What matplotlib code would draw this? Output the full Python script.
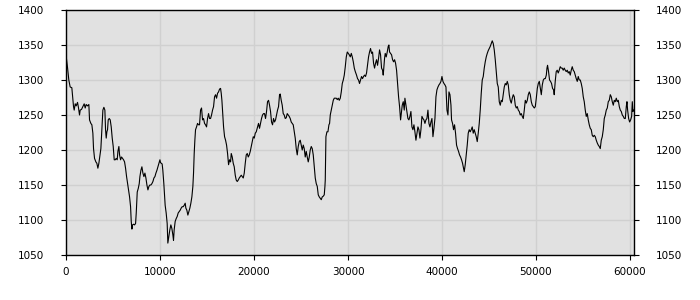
import matplotlib
matplotlib.use('Agg')
import matplotlib.pyplot as plt

# positions along the x axis and the values
x_pos = [0, 160, 300, 444, 620, 800, 870, 980, 1083, 1225, 1332, 1438, 1509, 1651, 1793, 1935,
         2042, 2148, 2290, 2432, 2503, 2645, 2752, 2858, 2929, 3036, 3178, 3284, 3391, 3497,
         3568, 3710, 3817, 3923, 4030, 4136, 4207, 4278, 4349, 4420, 4491, 4598, 4704, 4811,
         4917, 5024, 5130, 5237, 5343, 5450, 5521, 5627, 5698, 5805, 5911, 6018, 6124, 6231,
         6337, 6444, 6550, 6657, 6763, 6870, 6940, 7011, 7082, 7189, 7295, 7402, 7473, 7579,
         7686, 7792, 7863, 7970, 8076, 8183, 8289, 8396, 8502, 8609, 8715, 8822, 8928, 9035,
         9141, 9248, 9354, 9461, 9567, 9674, 9780, 9887, 9993,
         10054, 10230, 10302, 10408, 10480, 10550, 10657, 10764, 10835, 10941, 11048, 11154,
         11261, 11367, 11438, 11509, 11616, 11722, 11829, 11935, 12042, 12148, 12255, 12361,
         12468, 12574, 12681, 12752, 12858, 12965, 13071, 13178, 13284, 13391, 13497, 13568,
         13639, 13710, 13781, 13888, 13994, 14101, 14207, 14314, 14420, 14527, 14633, 14740,
         14846, 14953, 15059, 15166, 15272, 15379, 15485, 15592, 15698, 15805, 15911, 16018,
         16124, 16231, 16337, 16444, 16515, 16586, 16657, 16763, 16870, 16976, 17083, 17189,
         17296, 17402, 17509, 17580, 17686, 17793, 17899, 18006, 18112, 18219, 18325, 18432,
         18538, 18645, 18751, 18858, 18964, 19071, 19177, 19284, 19390, 19497, 19603, 19710,
         19816, 19923, 20029, 20136, 20242,
         20376, 20483, 20589, 20696, 20802, 20909, 21015, 21122, 21228, 21335, 21441, 21548,
         21654, 21761, 21867, 21974, 22080, 22187, 22293, 22400, 22506, 22613, 22719, 22790,
         22897, 23003, 23110, 23216, 23323, 23429, 23536, 23642, 23749, 23855, 23962, 24068,
         24175, 24281, 24388, 24494, 24601, 24707, 24814, 24920, 25027, 25133, 25240, 25346,
         25453, 25559, 25666, 25772, 25879, 25985, 26092, 26198, 26305, 26411, 26518, 26624,
         26731, 26837, 26944, 27050, 27157, 27263, 27370, 27476, 27547, 27583, 27654, 27760,
         27867, 27973, 28044, 28115, 28222, 28328, 28435, 28541, 28648, 28754, 28861, 28967,
         29074, 29180, 29287, 29393, 29500, 29606, 29713, 29819, 29926, 30032, 30139, 30245,
         30352, 30458, 30565, 30671, 30778,
         30910, 31016, 31123, 31229, 31336, 31442, 31549, 31655, 31762, 31868, 31975, 32081,
         32188, 32294, 32401, 32507, 32614, 32720, 32827, 32933, 33040, 33146, 33253, 33359,
         33466, 33572, 33679, 33750, 33821, 33892, 33963, 34069, 34176, 34282, 34353, 34424,
         34531, 34637, 34744, 34850, 34957, 35063, 35170, 35276, 35383, 35489, 35596, 35667,
         35773, 35880, 35986, 36057, 36164, 36270, 36377, 36483, 36590, 36696, 36803, 36909,
         37016, 37122, 37229, 37335, 37442, 37548, 37655, 37761, 37868, 37974, 38081, 38187,
         38294, 38400, 38507, 38613, 38720, 38826, 38933, 39039, 39146, 39252, 39359, 39465,
         39572, 39678, 39785, 39891, 39998, 40104, 40211, 40317, 40424, 40530, 40637, 40743,
         40850, 40956,
         41018, 41125, 41231, 41338, 41444, 41551, 41657, 41764, 41870, 41977, 42083, 42190,
         42296, 42367, 42474, 42580, 42687, 42793, 42900, 43006, 43113, 43219, 43326, 43432,
         43539, 43645, 43752, 43858, 43965, 44071, 44178, 44284, 44391, 44497, 44604, 44710,
         44817, 44923, 45030, 45136, 45243, 45349, 45456, 45562, 45669, 45775, 45882, 45988,
         46095, 46201, 46308, 46414, 46521, 46627, 46734, 46840, 46947, 47053, 47160, 47266,
         47373, 47479, 47586, 47692, 47799, 47905, 48012, 48118, 48225, 48331, 48438, 48544,
         48651, 48757, 48864, 48970, 49077, 49183, 49290, 49396, 49503, 49609, 49716, 49822,
         49929, 50035, 50142, 50248, 50355, 50461, 50568, 50674, 50781, 50887, 50994, 51100,
         51171,
         51232, 51339, 51445, 51552, 51658, 51765, 51871, 51942, 52049, 52155, 52262, 52368,
         52475, 52581, 52688, 52794, 52901, 53007, 53114, 53220, 53327, 53433, 53540, 53646,
         53753, 53859, 53966, 54072, 54179, 54285, 54392, 54498, 54605, 54711, 54818, 54924,
         55031, 55137, 55244, 55350, 55457, 55563, 55670, 55776, 55883, 55989, 56096, 56202,
         56309, 56415, 56522, 56628, 56735, 56841, 56948, 57054, 57161, 57267, 57374, 57480,
         57587, 57693, 57800, 57906, 58013, 58119, 58226, 58332, 58439, 58545, 58652, 58758,
         58865, 58971, 59078, 59184, 59291, 59397, 59504, 59610, 59681, 59752, 59859, 59965,
         60071, 60178, 60249, 60320, 60355]

level = [1336, 1318, 1300, 1290, 1289, 1262, 1257, 1266, 1263, 1268, 1260, 1250, 1257, 1258, 1262, 1266,
         1260, 1265, 1263, 1265, 1243, 1238, 1236, 1224, 1202, 1188, 1183, 1181, 1174, 1181,
         1188, 1202, 1229, 1257, 1261, 1257, 1229, 1217, 1226, 1229, 1243, 1245, 1243, 1233,
         1217, 1205, 1186, 1186, 1188, 1186, 1198, 1205, 1193, 1186, 1190, 1188, 1186, 1183,
         1174, 1162, 1152, 1143, 1133, 1119, 1098, 1087, 1093, 1094, 1093, 1095, 1110, 1140,
         1145, 1152, 1162, 1171, 1176, 1167, 1162, 1167, 1160, 1150, 1143, 1148, 1150, 1150,
         1152, 1155, 1160, 1162, 1167, 1171, 1176, 1181, 1186,
         1182, 1180, 1171, 1152, 1136, 1121, 1110, 1095, 1067, 1076, 1086, 1093,
         1088, 1079, 1071, 1086, 1098, 1102, 1105, 1110, 1112, 1114, 1117, 1119,
         1119, 1121, 1124, 1117, 1114, 1107, 1112, 1117, 1124, 1133, 1148, 1167,
         1195, 1214, 1229, 1233, 1238, 1236, 1236, 1257, 1260, 1243, 1245, 1238,
         1236, 1233, 1245, 1252, 1245, 1245, 1250, 1257, 1262, 1276, 1279, 1274,
         1281, 1283, 1287, 1288, 1281, 1271, 1255, 1233, 1219, 1214, 1207, 1195,
         1179, 1186, 1183, 1195, 1190, 1181, 1176, 1164, 1157, 1155, 1157, 1160,
         1162, 1164, 1162, 1160, 1167, 1181, 1193, 1195, 1190, 1193, 1198, 1205,
         1212, 1219, 1217, 1224, 1226,
         1233, 1238, 1231, 1238, 1245, 1250, 1252, 1252, 1245, 1255, 1269, 1271,
         1264, 1255, 1240, 1236, 1245, 1240, 1243, 1250, 1257, 1262, 1279, 1280,
         1271, 1264, 1252, 1250, 1245, 1246, 1252, 1250, 1248, 1245, 1240, 1238,
         1236, 1226, 1217, 1202, 1193, 1205, 1212, 1214, 1207, 1200, 1207, 1202,
         1190, 1198, 1190, 1183, 1190, 1200, 1205, 1202, 1193, 1176, 1160, 1152,
         1148, 1136, 1133, 1131, 1129, 1133, 1134, 1136, 1148, 1157, 1219, 1226,
         1226, 1236, 1238, 1250, 1257, 1264, 1271, 1274, 1274, 1274, 1272, 1274,
         1271, 1274, 1283, 1295, 1300, 1307, 1319, 1333, 1340, 1338, 1336, 1333,
         1338, 1333, 1326, 1317, 1312,
         1307, 1302, 1300, 1295, 1300, 1305, 1302, 1305, 1307, 1305, 1310, 1321,
         1333, 1340, 1345, 1338, 1340, 1324, 1317, 1324, 1329, 1321, 1331, 1343,
         1336, 1317, 1314, 1307, 1319, 1331, 1338, 1333, 1340, 1348, 1350, 1340,
         1338, 1336, 1329, 1326, 1329, 1324, 1314, 1295, 1276, 1262, 1243, 1252,
         1264, 1269, 1257, 1274, 1264, 1255, 1245, 1243, 1248, 1255, 1233, 1229,
         1236, 1226, 1214, 1224, 1233, 1229, 1217, 1229, 1248, 1245, 1243, 1238,
         1243, 1245, 1257, 1238, 1233, 1240, 1245, 1219, 1231, 1245, 1276, 1286,
         1290, 1293, 1295, 1298, 1305, 1298, 1295, 1293, 1290, 1257, 1250, 1283,
         1279, 1264,
         1243, 1238, 1229, 1236, 1224, 1207, 1202, 1198, 1193, 1190, 1186, 1181,
         1174, 1169, 1179, 1193, 1207, 1224, 1229, 1226, 1229, 1233, 1224, 1229,
         1224, 1219, 1212, 1224, 1238, 1257, 1281, 1300, 1305, 1317, 1326, 1333,
         1338, 1342, 1345, 1348, 1352, 1356, 1352, 1343, 1329, 1312, 1295, 1290,
         1269, 1264, 1271, 1269, 1279, 1290, 1295, 1293, 1298, 1293, 1279, 1271,
         1267, 1274, 1279, 1276, 1264, 1260, 1262, 1257, 1255, 1250, 1252, 1248,
         1245, 1257, 1271, 1267, 1271, 1279, 1283, 1279, 1269, 1264, 1262, 1260,
         1262, 1274, 1288, 1295, 1298, 1288, 1279, 1293, 1300, 1302, 1302, 1307,
         1317,
         1321, 1312, 1300, 1298, 1295, 1288, 1286, 1279, 1298, 1312, 1314, 1310,
         1314, 1319, 1317, 1317, 1314, 1317, 1314, 1312, 1314, 1310, 1312, 1307,
         1314, 1319, 1314, 1312, 1307, 1302, 1298, 1305, 1300, 1300, 1295, 1288,
         1276, 1269, 1257, 1248, 1252, 1243, 1236, 1231, 1229, 1221, 1219, 1221,
         1219, 1214, 1210, 1207, 1205, 1202, 1214, 1219, 1229, 1245, 1250, 1257,
         1260, 1269, 1271, 1279, 1276, 1269, 1264, 1271, 1269, 1274, 1269, 1271,
         1262, 1257, 1255, 1250, 1248, 1245, 1245, 1262, 1269, 1257, 1245, 1240,
         1243, 1248, 1269, 1255, 1257]

x_ticks = [0, 10000, 20000, 30000, 40000, 50000, 60000]
y_ticks = [1050, 1100, 1150, 1200, 1250, 1300, 1350, 1400]

fig = plt.figure(figsize=(7, 3), dpi=100)
ax = fig.add_axes([66 / 700, 45 / 300, 568 / 700, 245 / 300])
ax.set_facecolor('#e1e1e1')

ax.plot(x_pos, level, color='black', linewidth=0.8)

ax.set_xlim(0, 60430)
ax.set_ylim(1050, 1400)
ax.set_xticks(x_ticks)
ax.set_yticks(y_ticks)
ax.grid(True, color='#d0d0d0', linewidth=1)
ax.set_axisbelow(True)

ax.tick_params(axis='both', labelsize=7.5, length=3.5, width=0.8, color='black')
ax.tick_params(axis='y', left=True, right=True, labelleft=True, labelright=True, pad=12)
ax.tick_params(axis='x', pad=5)
for s in ax.spines.values():
    s.set_color('black')
    s.set_linewidth(1)

fig.savefig('out.png', dpi=100)
